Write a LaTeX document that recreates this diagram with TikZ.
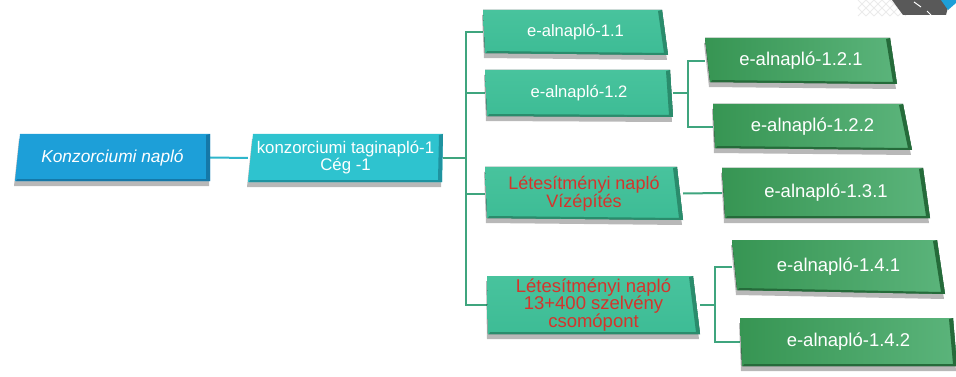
\documentclass[tikz,border=0pt]{standalone}
\usepackage{fontspec}
\setmainfont{Liberation Sans}
\usetikzlibrary{calc,fit}
\definecolor{kblue}{HTML}{1D9FD8}
\definecolor{kblued}{HTML}{1578A8}
\definecolor{tturq}{HTML}{2EC3CF}
\definecolor{tturqd}{HTML}{1F93A0}
\definecolor{lgreen}{HTML}{3DBC95}
\definecolor{lgreenb}{HTML}{48C39D}
\definecolor{lgreend}{HTML}{2A8C6C}
\definecolor{dgreen}{HTML}{379553}
\definecolor{dgreenb}{HTML}{5BB47B}
\definecolor{dgreend}{HTML}{256B3A}
\definecolor{redtxt}{HTML}{D5342C}
\definecolor{linec}{HTML}{3FA57E}
\definecolor{linet}{HTML}{2FB6CB}
\pgfdeclarelayer{bg}
\pgfsetlayers{bg,main}
\newcommand\gbox[9]{%
  \fill[black,opacity=.28] ($(#2)+(-1,5)$) -- ($(#3)+(-1,5)$) -- ($(#4)+(-1,5)$) -- ($(#5)+(-1,5)$) -- cycle;
  \fill[#6] (#2) -- (#3) -- (#4) -- (#5) -- cycle;
  \fill[#7] ($(#3)+(-4,1)$) -- (#3) -- (#4) -- ($(#5)+(1,0)$) -- ($(#5)+(2,-2)$) -- ($(#4)+(-4,-2)$) -- cycle;
  \node[fit={(#2)(#3)(#4)(#5)},inner sep=0pt] (#1) {};
  \node[align=center,inner sep=0pt,#8] (#1-t) at (#1.center) {#9};
}
\begin{document}
\begin{tikzpicture}[x=1pt,y=-1pt,
  lv1/.style={text=white,font=\fontsize{16.8}{17}\selectfont},
  lv2/.style={text=white,font=\fontsize{16.6}{18}\selectfont},
  lv3/.style={text=white,font=\fontsize{18.5}{20}\selectfont},
  red2/.style={text=redtxt,font=\fontsize{18}{16}\selectfont},
  red3/.style={text=redtxt,font=\fontsize{18.5}{17.5}\selectfont},
  conn/.style={draw=linec,line width=2pt},
  connt/.style={draw=linet,line width=2pt}]
\useasboundingbox (0,0) rectangle (956,377);
\clip (0,0) rectangle (956,377);
% corner decoration
\foreach \i in {0,8,...,40}{
  \draw[black!8,line width=1pt] (858+\i,0) -- (866+\i,8) -- (858+\i,16);
  \draw[black!8,line width=1pt] (866+\i,0) -- (858+\i,8) -- (866+\i,16);
}
\fill[black!65] (892,0) -- (950,0) -- (946,15) -- (903,15) -- cycle;
\draw[white,line width=1pt] (914,2) -- (921,7) (927,11) -- (931,15);
\fill[kblue] (941,0) -- (956,0) -- (956,3) -- (948,10) -- cycle;

\coordinate (bus1) at (466,0);
\coordinate (bus2) at (688,0);
\coordinate (bus3) at (715,0);

\gbox{K}{20,134}{210,134}{210,181}{15,181}{kblue}{kblued}{text=white,font=\fontsize{17.3}{18}\selectfont\itshape}{Konzorciumi napló}
\gbox{T}{253,134}{443,134}{442,182}{248,182}{tturq}{tturqd}{lv1}{konzorciumi taginapló-1\\Cég -1}
\gbox{A11}{483,10}{662,10}{668,55}{485,53}{top color=lgreenb,bottom color=lgreen}{lgreend}{lv2}{e-alnapló-1.1}
\gbox{A12}{485,70}{670,70}{673,117}{487,116}{top color=lgreenb,bottom color=lgreen}{lgreend}{lv2}{e-alnapló-1.2}
\gbox{L13}{485,167}{677,167}{683,220}{487,218}{top color=lgreenb,bottom color=lgreen}{lgreend}{red2}{Létesítményi napló\\Vízépítés}
\gbox{L14}{487,276}{693,276}{700,334}{488,334}{top color=lgreenb,bottom color=lgreen}{lgreend}{red3}{Létesítményi napló\\13+400 szelvény\\csomópont}
\gbox{A121}{705,38}{890,38}{897,84}{710,82}{left color=dgreen,right color=dgreenb}{dgreend}{lv3}{e-alnapló-1.2.1}
\gbox{A122}{713,104}{903,104}{912,150}{715,148}{left color=dgreen,right color=dgreenb}{dgreend}{lv3}{e-alnapló-1.2.2}
\gbox{A131}{722,168}{923,168}{930,218}{725,218}{left color=dgreen,right color=dgreenb}{dgreend}{lv3}{e-alnapló-1.3.1}
\gbox{A141}{732,240}{937,240}{945,294}{737,290}{left color=dgreen,right color=dgreenb}{dgreend}{lv3}{e-alnapló-1.4.1}
\gbox{A142}{740,318}{953,318}{957,366}{742,366}{left color=dgreen,right color=dgreenb}{dgreend}{lv3}{e-alnapló-1.4.2}

\begin{pgfonlayer}{bg}
\draw[connt] (K.east) -- (T.west);
\draw[conn] (T.east) -- (T.east -| bus1);
\draw[conn] (A11.west) -| (bus1 |- L14.west) -- (L14.west);
\draw[conn] (A12.west -| bus1) -- (A12.west);
\draw[conn] (L13.west -| bus1) -- (L13.west);
\draw[conn] (A12.east) -- (A12.east -| bus2);
\draw[conn] (A121.west) -| (bus2 |- A122.west) -- (A122.west);
\draw[conn] (L13.east) -- (A131.west);
\draw[conn] (L14.east) -- (L14.east -| bus3);
\draw[conn] (A141.west) -| (bus3 |- A142.west) -- (A142.west);
\end{pgfonlayer}
\end{tikzpicture}
\end{document}
